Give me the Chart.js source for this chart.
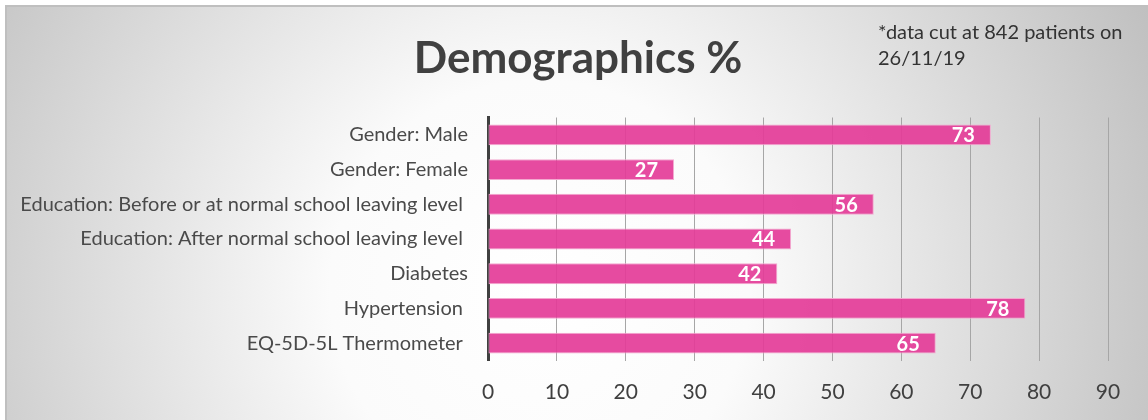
<!DOCTYPE html>
<html><head><meta charset="utf-8">
<script src="https://cdn.jsdelivr.net/npm/chart.js@4.4.0/dist/chart.umd.min.js"></script>
<style>html,body{margin:0;padding:0;background:#fff;overflow:hidden}#wrap{position:relative;width:1148px;height:420px}canvas{display:block}</style>
</head><body><div id="wrap"><canvas id="c" width="1148" height="420"></canvas></div>
<script>
const categories = ['Gender: Male', 'Gender: Female', 'Education: Before or at normal school leaving level ', 'Education: After normal school leaving level ', 'Diabetes', 'Hypertension ', 'EQ-5D-5L Thermometer '];
const values = [73, 27, 56, 44, 42, 78, 65];
const xMin = 0, xMax = 90, xStep = 10;
const titleText = 'Demographics %';
const noteLines = ['*data cut at 842 patients on', '26/11/19'];

const FONT = 'Lato, "Open Sans", sans-serif';

const bgPlugin = {
  id: 'bg',
  beforeDraw(chart) {
    const ctx = chart.ctx, w = chart.width, h = chart.height;
    ctx.save();
    ctx.fillStyle = '#ffffff';
    ctx.fillRect(0, 0, w, h);
    const g = ctx.createRadialGradient(540, 290, 0, 540, 290, 700);
    g.addColorStop(0, '#ffffff');
    g.addColorStop(0.3, '#fbfbfb');
    g.addColorStop(1, '#bcbcbc');
    ctx.fillStyle = g;
    ctx.fillRect(6, 6, w - 6, h - 6);
    ctx.fillStyle = '#bfbfbf';
    ctx.fillRect(5, 5, w - 5, 2);
    ctx.fillRect(5, 5, 2, h - 5);
    ctx.restore();
  }
};

const textPlugin = {
  id: 'texts',
  afterDraw(chart) {
    const ctx = chart.ctx;
    ctx.save();
    ctx.textBaseline = 'middle';
    ctx.textAlign = 'center';
    ctx.font = 'bold 44px ' + FONT;
    ctx.fillStyle = '#404040';
    ctx.fillText(titleText, 578, 59);
    ctx.font = '20px ' + FONT;
    ctx.fillStyle = '#333333';
    ctx.textAlign = 'left';
    noteLines.forEach((t, i) => ctx.fillText(t, 878, 33 + i * 26));
    ctx.restore();
  }
};

const labelPlugin = {
  id: 'barLabels',
  afterDatasetsDraw(chart) {
    const ctx = chart.ctx;
    const meta = chart.getDatasetMeta(0);
    const data = chart.data.datasets[0].data;
    ctx.save();
    ctx.font = 'bold 20px ' + FONT;
    ctx.fillStyle = '#ffffff';
    ctx.textAlign = 'right';
    ctx.textBaseline = 'middle';
    meta.data.forEach((bar, i) => {
      ctx.fillText(String(data[i]), bar.x - 16, bar.y + 1);
    });
    ctx.restore();
  }
};

new Chart(document.getElementById('c'), {
  type: 'bar',
  data: {
    labels: categories,
    datasets: [{
      data: values,
      backgroundColor: 'rgba(228,60,152,0.92)',
      borderColor: '#f3a9d0',
      borderWidth: 1,
      borderSkipped: false,
      barPercentage: 0.6,
      categoryPercentage: 1.0
    }]
  },
  options: {
    indexAxis: 'y',
    responsive: false,
    devicePixelRatio: 1,
    animation: false,
    layout: { padding: { left: 0, right: 40, top: 117.5, bottom: 0 } },
    plugins: {
      legend: { display: false },
      tooltip: { enabled: false },
      title: { display: false }
    },
    scales: {
      x: {
        min: xMin, max: xMax,
        ticks: { stepSize: xStep, color: '#404040', font: { family: FONT, size: 21 }, padding: 19 },
        grid: { color: '#a6a6a6', lineWidth: 1, drawTicks: false },
        border: { display: false },
        afterFit(scale) { scale.height = 59.5; }
      },
      y: {
        ticks: { color: '#4a4a4a', font: { family: FONT, size: 20 }, padding: 20 },
        grid: { display: false, drawTicks: false },
        border: { display: true, color: '#404040', width: 3 },
        afterFit(scale) { scale.width = 488; }
      }
    }
  },
  plugins: [bgPlugin, textPlugin, labelPlugin]
});
</script>
</body></html>
